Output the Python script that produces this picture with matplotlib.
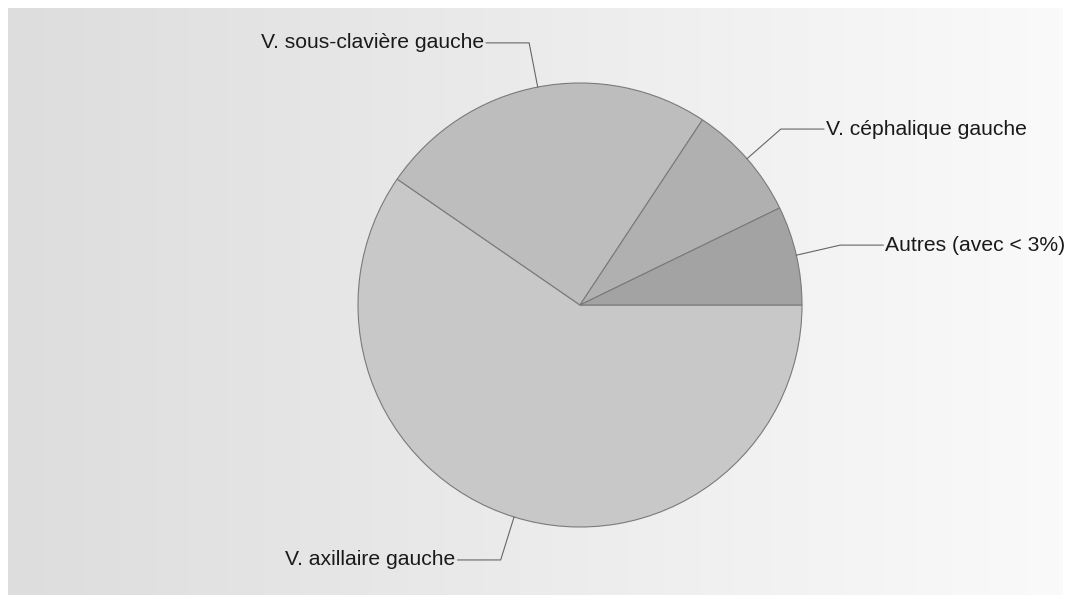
import numpy as np
import matplotlib.pyplot as plt

plt.rcParams['font.family'] = ['Liberation Sans', 'DejaVu Sans']

# slices, clockwise from 3 o'clock
labels = ["V. axillaire gauche", "V. sous-clavière gauche",
          "V. céphalique gauche", "Autres (avec < 3%)"]
values = [59.6, 24.7, 8.5, 7.2]
colors = ["#c8c8c8", "#bdbdbd", "#b0b0b0", "#a3a3a3"]

W, H = 1070, 595
fig = plt.figure(figsize=(W / 100, H / 100), dpi=100)
fig.patch.set_facecolor("white")
ax = fig.add_axes([0, 0, 1, 1])
ax.set_xlim(0, W)
ax.set_ylim(0, H)
ax.set_aspect("equal")
ax.axis("off")

# background panel with horizontal gradient
grad = np.linspace(0, 1, 256).reshape(1, -1)
ax.imshow(grad, cmap=plt.matplotlib.colors.LinearSegmentedColormap.from_list(
    "bg", ["#dddddd", "#fafafa"]), extent=[8, 1063, 0, H - 8],
    aspect="auto", zorder=0)

cx, cy, r = 580, H - 305, 222
wedges, _ = ax.pie(values, colors=colors, startangle=0, counterclock=False,
                   center=(cx, cy), radius=r, frame=True,
                   wedgeprops=dict(edgecolor="#7a7a7a", linewidth=0.8))
ax.set_xlim(0, W)
ax.set_ylim(0, H)
ax.axis("off")

for w, lab in zip(wedges, labels):
    mid = np.deg2rad((w.theta1 + w.theta2) / 2)
    x0, y0 = cx + r * np.cos(mid), cy + r * np.sin(mid)
    x1, y1 = cx + (r + 45) * np.cos(mid), cy + (r + 45) * np.sin(mid)
    side = 1 if np.cos(mid) >= 0 else -1
    x2 = x1 + side * 43
    ax.plot([x0, x1, x2], [y0, y1, y1], color="#666666", lw=0.8, zorder=3)
    ax.text(x2 + side * 2, y1, lab, ha="left" if side > 0 else "right",
            va="center", fontsize=15.2, color="#1a1a1a", zorder=4)

fig.savefig("out.png", dpi=100)
